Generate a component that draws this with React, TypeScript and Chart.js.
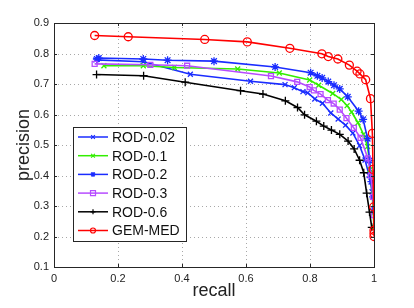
import React, { useEffect, useRef } from "react";
import { Chart, registerables } from "chart.js";
Chart.register(...registerables);

const seriesLabels = ["ROD-0.02", "ROD-0.1", "ROD-0.2", "ROD-0.3", "ROD-0.6", "GEM-MED"];

const rod002Recall = [0.131, 0.279, 0.426, 0.614, 0.722, 0.751, 0.778, 0.793, 0.815, 0.839, 0.865, 0.888, 0.911, 0.934, 0.955, 0.972, 0.985, 0.994, 1.0];
const rod002Precision = [0.779, 0.773, 0.732, 0.709, 0.698, 0.688, 0.675, 0.671, 0.651, 0.637, 0.605, 0.585, 0.565, 0.539, 0.498, 0.451, 0.4, 0.347, 0.28];

const rod01Recall = [0.156, 0.279, 0.376, 0.574, 0.704, 0.799, 0.827, 0.871, 0.898, 0.916, 0.93, 0.95, 0.967, 0.98, 0.988, 0.995, 1.0];
const rod01Precision = [0.76, 0.76, 0.754, 0.749, 0.736, 0.713, 0.696, 0.669, 0.649, 0.629, 0.608, 0.573, 0.535, 0.495, 0.42, 0.33, 0.23];

const rod02Recall = [0.134, 0.14, 0.279, 0.355, 0.5, 0.691, 0.802, 0.823, 0.838, 0.857, 0.875, 0.893, 0.918, 0.952, 0.966, 0.98, 0.986, 0.992, 0.997, 1.0];
const rod02Precision = [0.782, 0.785, 0.782, 0.778, 0.775, 0.756, 0.737, 0.727, 0.72, 0.708, 0.696, 0.684, 0.658, 0.611, 0.584, 0.521, 0.449, 0.38, 0.33, 0.29];

const rod03Recall = [0.127, 0.301, 0.416, 0.678, 0.76, 0.799, 0.812, 0.833, 0.856, 0.874, 0.893, 0.914, 0.937, 0.958, 0.981, 0.99, 0.997, 1.0];
const rod03Precision = [0.766, 0.763, 0.76, 0.726, 0.707, 0.69, 0.679, 0.667, 0.647, 0.636, 0.616, 0.588, 0.556, 0.523, 0.456, 0.4, 0.33, 0.27];

const rod06Recall = [0.133, 0.28, 0.41, 0.583, 0.653, 0.723, 0.761, 0.783, 0.82, 0.843, 0.867, 0.893, 0.919, 0.938, 0.955, 0.968, 0.977, 0.986, 0.993];
const rod06Precision = [0.731, 0.727, 0.706, 0.678, 0.667, 0.645, 0.623, 0.599, 0.578, 0.562, 0.549, 0.535, 0.513, 0.487, 0.45, 0.409, 0.342, 0.28, 0.23];

const gemRecall = [0.127, 0.232, 0.471, 0.604, 0.737, 0.837, 0.857, 0.887, 0.923, 0.947, 0.956, 0.974, 0.989, 0.995, 0.997, 0.999, 1.0, 1.0, 1.0];
const gemPrecision = [0.859, 0.855, 0.846, 0.838, 0.817, 0.799, 0.79, 0.782, 0.762, 0.742, 0.733, 0.714, 0.652, 0.538, 0.42, 0.297, 0.22, 0.21, 0.2];

const xTickValues = [0, 0.2, 0.4, 0.6, 0.8, 1];
const yTickValues = [0.1, 0.2, 0.3, 0.4, 0.5, 0.6, 0.7, 0.8, 0.9];

const FONT = "'Liberation Sans', Arial, sans-serif";

const zip = (xs: number[], ys: number[]) => xs.map((x, i) => ({ x, y: ys[i] }));

const styles = [
  { color: "#1a2cff", style: "crossRot", radius: 3.5, xs: rod002Recall, ys: rod002Precision },
  { color: "#33ee00", style: "crossRot", radius: 3.5, xs: rod01Recall, ys: rod01Precision },
  { color: "#1a2cff", style: "star", radius: 4, xs: rod02Recall, ys: rod02Precision },
  { color: "#b64cff", style: "rect", radius: 3.5, xs: rod03Recall, ys: rod03Precision },
  { color: "#000000", style: "cross", radius: 4, xs: rod06Recall, ys: rod06Precision },
  { color: "#ff0000", style: "circle", radius: 4, xs: gemRecall, ys: gemPrecision },
];

function marker(ctx: CanvasRenderingContext2D, style: string, x: number, y: number, r: number) {
  ctx.beginPath();
  if (style === "circle") {
    ctx.arc(x, y, r, 0, Math.PI * 2);
  } else if (style === "rect") {
    ctx.rect(x - r, y - r, 2 * r, 2 * r);
  } else {
    const d = r * 0.75;
    if (style === "cross" || style === "star") {
      ctx.moveTo(x - r, y); ctx.lineTo(x + r, y);
      ctx.moveTo(x, y - r); ctx.lineTo(x, y + r);
    }
    if (style === "crossRot" || style === "star") {
      ctx.moveTo(x - d, y - d); ctx.lineTo(x + d, y + d);
      ctx.moveTo(x - d, y + d); ctx.lineTo(x + d, y - d);
    }
  }
  ctx.stroke();
}

const gridPlugin = {
  id: "dottedGrid",
  beforeDatasetsDraw(chart: any) {
    const { ctx, chartArea: a } = chart;
    const xs = chart.scales.x;
    const ys = chart.scales.y;
    ctx.save();
    ctx.strokeStyle = "#a8a8a8";
    ctx.lineWidth = 1;
    ctx.setLineDash([1, 3]);
    ctx.beginPath();
    xTickValues.forEach((v) => {
      const px = Math.round(xs.getPixelForValue(v)) + 0.5;
      ctx.moveTo(px, a.top);
      ctx.lineTo(px, a.bottom);
    });
    yTickValues.forEach((v) => {
      const py = Math.round(ys.getPixelForValue(v)) + 0.5;
      ctx.moveTo(a.left, py);
      ctx.lineTo(a.right, py);
    });
    ctx.stroke();
    ctx.restore();
  },
};

const framePlugin = {
  id: "frame",
  afterDatasetsDraw(chart: any) {
    const { ctx, chartArea: a } = chart;
    ctx.save();
    ctx.strokeStyle = "#262626";
    ctx.lineWidth = 1;
    ctx.strokeRect(a.left + 0.5, a.top + 0.5, a.right - a.left, a.bottom - a.top);
    const xs = chart.scales.x;
    const ys = chart.scales.y;
    ctx.beginPath();
    xTickValues.forEach((v) => {
      const px = Math.round(xs.getPixelForValue(v)) + 0.5;
      ctx.moveTo(px, a.bottom);
      ctx.lineTo(px, a.bottom - 3);
      ctx.moveTo(px, a.top);
      ctx.lineTo(px, a.top + 3);
    });
    yTickValues.forEach((v) => {
      const py = Math.round(ys.getPixelForValue(v)) + 0.5;
      ctx.moveTo(a.left, py);
      ctx.lineTo(a.left + 3, py);
      ctx.moveTo(a.right, py);
      ctx.lineTo(a.right - 3, py);
    });
    ctx.stroke();

    ctx.fillStyle = "#222";
    ctx.font = `18px ${FONT}`;
    ctx.textAlign = "center";
    ctx.textBaseline = "middle";
    ctx.fillText("recall", (a.left + a.right) / 2, 291);
    ctx.save();
    ctx.translate(24, (a.top + a.bottom) / 2);
    ctx.rotate(-Math.PI / 2);
    ctx.fillText("precision", 0, 0);
    ctx.restore();

    const lx = 73, ly = 127, lw = 113, lh = 114;
    ctx.fillStyle = "#ffffff";
    ctx.fillRect(lx, ly, lw, lh);
    ctx.strokeStyle = "#262626";
    ctx.lineWidth = 1;
    ctx.strokeRect(lx + 0.5, ly + 0.5, lw, lh);
    ctx.font = `14px ${FONT}`;
    ctx.textAlign = "left";
    chart.data.datasets.forEach((ds: any, i: number) => {
      const cy = 137 + i * 18.7;
      ctx.strokeStyle = ds.borderColor;
      ctx.lineWidth = 1.5;
      ctx.beginPath();
      ctx.moveTo(78, cy);
      ctx.lineTo(108, cy);
      ctx.stroke();
      ctx.lineWidth = 1.2;
      marker(ctx, ds.pointStyle, 93, cy, 2.5);
      ctx.fillStyle = "#111";
      ctx.fillText(ds.label, 112, cy + 1);
    });
    ctx.restore();
  },
};

export default function App() {
  const ref = useRef<HTMLCanvasElement>(null);
  useEffect(() => {
    if (!ref.current) return;
    const chart = new Chart(ref.current, {
      type: "line",
      data: {
        datasets: styles.map((s, i) => ({
          label: seriesLabels[i],
          data: zip(s.xs, s.ys),
          borderColor: s.color,
          backgroundColor: "transparent",
          pointBorderColor: s.color,
          pointBackgroundColor: "transparent",
          pointStyle: s.style as any,
          pointRadius: s.radius,
          pointBorderWidth: 1.3,
          borderWidth: 1.6,
          tension: 0,
          fill: false,
          order: styles.length - i,
        })),
      },
      options: {
        responsive: false,
        animation: false,
        layout: { padding: { left: 0, right: 40, top: 23, bottom: 0 } },
        plugins: { legend: { display: false }, tooltip: { enabled: false } },
        scales: {
          x: {
            type: "linear",
            min: 0,
            max: 1,
            afterFit(scale: any) { scale.height = 41; },
            afterBuildTicks(scale: any) { scale.ticks = xTickValues.map((v) => ({ value: v })); },
            grid: { display: false, drawTicks: false },
            border: { display: false },
            ticks: {
              color: "#222",
              font: { family: FONT, size: 11 },
              padding: 5,
              callback: (v: any) => String(Number(v)),
            },
          },
          y: {
            type: "linear",
            min: 0.1,
            max: 0.9,
            afterFit(scale: any) { scale.width = 54; },
            afterBuildTicks(scale: any) { scale.ticks = yTickValues.map((v) => ({ value: v })); },
            grid: { display: false, drawTicks: false },
            border: { display: false },
            ticks: {
              color: "#222",
              font: { family: FONT, size: 11 },
              padding: 5,
              callback: (v: any) => Number(v).toFixed(1),
            },
          },
        },
      },
      plugins: [gridPlugin, framePlugin],
    });
    return () => chart.destroy();
  }, []);
  return (
    <div style={{ position: "fixed", left: 0, top: 0, width: 414, height: 308, background: "#fff" }}>
      <canvas ref={ref} width={414} height={308} />
    </div>
  );
}
